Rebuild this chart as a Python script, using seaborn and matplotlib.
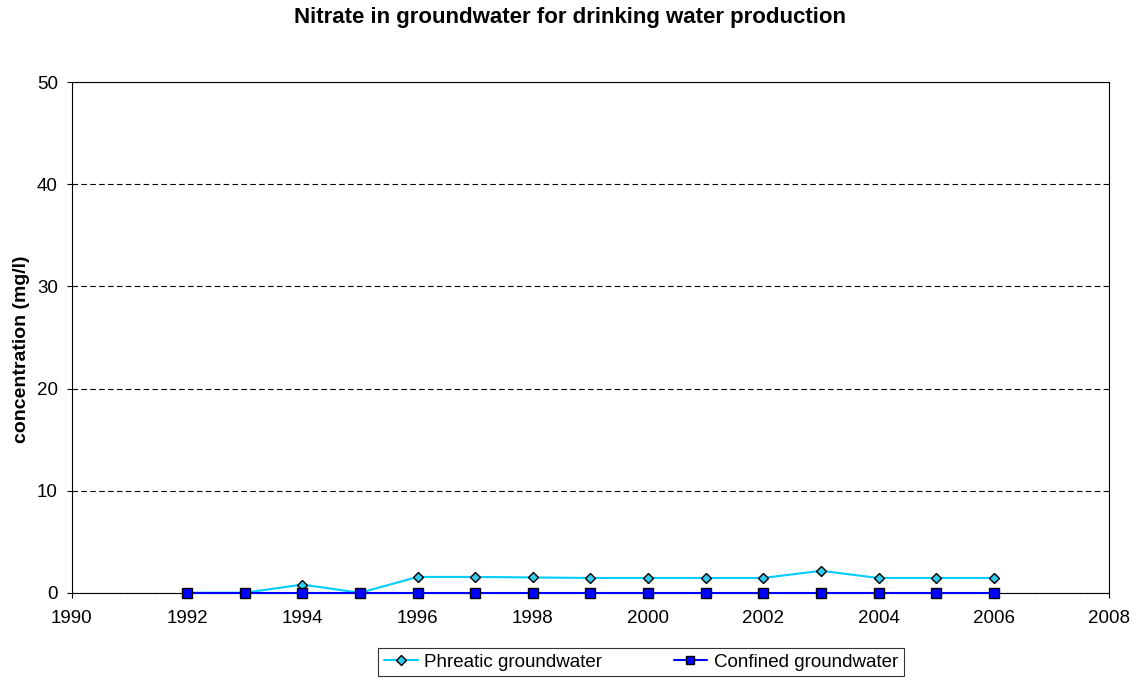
import pandas as pd
import numpy as np
import matplotlib.pyplot as plt
import seaborn as sns

years = list(range(1992, 2007))
phreatic = [0, 0, 0.8, 0, 1.55, 1.55, 1.5, 1.45, 1.45, 1.45, 1.45, 2.15, 1.45, 1.45, 1.45]
confined = [0] * 15
series_names = ['Phreatic groundwater', 'Confined groundwater']

df = pd.DataFrame({'Year': years * 2,
                   'Nitrate': phreatic + confined,
                   'Type': [series_names[0]] * 15 + [series_names[1]] * 15})

sns.set_style('white')
plt.rcParams['font.family'] = ['Liberation Sans', 'DejaVu Sans']
plt.rcParams['text.color'] = 'black'
plt.rcParams['xtick.color'] = 'black'
plt.rcParams['ytick.color'] = 'black'
plt.rcParams['axes.labelcolor'] = 'black'

fig = plt.figure(figsize=(11.41, 6.79), dpi=100)
ax = fig.add_axes([0.063, 0.127, 0.909, 0.752])

sns.lineplot(data=df, x='Year', y='Nitrate', hue='Type', style='Type',
             palette={series_names[0]: '#00ccff', series_names[1]: '#0000ff'},
             markers={series_names[0]: 'D', series_names[1]: 's'},
             dashes=False, linewidth=1.5, ax=ax, legend=False)
# marker sizes differ per series
for line, ms, z in zip(ax.lines, [5.5, 6.5], [4, 5]):
    line.set_markersize(ms)
    line.set_markeredgecolor('black')
    line.set_markeredgewidth(1)
    line.set_clip_on(False)
    line.set_zorder(z)
ax.lines[0].set_markerfacecolor('#33ccee')

ax.set_xlim(1990, 2008)
ax.set_ylim(0, 50)
ax.set_xticks(range(1990, 2009, 2))
ax.set_yticks(range(0, 51, 10))
ax.yaxis.grid(True, linestyle=(0, (5, 3)), color='black', linewidth=0.8)
ax.set_axisbelow(True)
for s in ax.spines.values():
    s.set_color('black')
    s.set_linewidth(0.8)
ax.tick_params(axis='both', direction='out', length=3.6, width=0.8, color='black',
               labelsize=13.5, bottom=True, left=True)
ax.tick_params(axis='x', pad=9)
ax.tick_params(axis='y', pad=6.5)
ax.set_xlabel('')
ax.set_ylabel('concentration (mg/l)', fontsize=14, fontweight='bold')
ax.yaxis.set_label_coords(-0.0405, 0.476)
fig.suptitle('Nitrate in groundwater for drinking water production',
             fontsize=16, fontweight='bold', y=0.9735, va='center')

handles = [plt.Line2D([], [], color='#00ccff', marker='D', markersize=5,
                      markerfacecolor='#33ccee', markeredgecolor='black', lw=1.5),
           plt.Line2D([], [], color='#0000ff', marker='s', markersize=6,
                      markeredgecolor='black', lw=1.5)]
leg = fig.legend(handles, series_names,
                 loc='center', bbox_to_anchor=(0.5618, 0.025), ncol=2, frameon=True,
                 fancybox=False, edgecolor='black', fontsize=13.5, handlelength=1.8,
                 handletextpad=0.35, columnspacing=3.8, borderpad=0.3,
                 borderaxespad=0)
leg.get_frame().set_linewidth(0.8)

plt.savefig('out.png', dpi=100)
